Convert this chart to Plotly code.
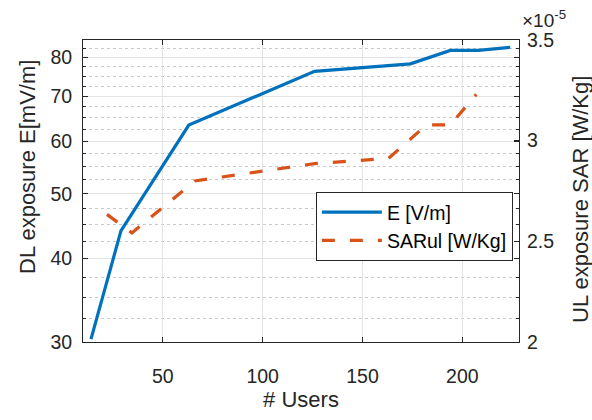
import plotly.graph_objects as go

# Data
users_E = [14, 29, 63, 126, 174, 194, 208, 224]
E_vals = [30.3, 44.0, 63.4, 76.3, 78.3, 82.0, 82.0, 82.9]

users_SAR = [22, 34.5, 66, 126, 163, 182, 194, 207]
SAR_vals = [2.634e-5, 2.542e-5, 2.80e-5, 2.886e-5, 2.912e-5, 3.078e-5, 3.078e-5, 3.23e-5]

x_ticks = [50, 100, 150, 200]
yl_ticks = [30, 40, 50, 60, 70, 80]
yl_minor = [32.5, 35, 37.5, 42.5, 45, 47.5, 52.5, 55, 57.5, 62.5, 65, 67.5, 72.5, 75, 77.5, 82.5]
yr_ticks = [2e-5, 2.5e-5, 3e-5, 3.5e-5]
yr_ticktext = ["2", "2.5", "3", "3.5"]

FONT = "Liberation Sans, Arial, sans-serif"
AX = "#262626"

fig = go.Figure()
fig.add_trace(go.Scatter(x=users_E, y=E_vals, mode="lines", name="E [V/m]",
                         line=dict(color="#0072BD", width=3.2), yaxis="y"))
fig.add_trace(go.Scatter(x=users_SAR, y=SAR_vals, mode="lines", name="SARul [W/Kg]",
                         line=dict(color="#D95319", width=3.2, dash="13px,15px"), yaxis="y2"))

fig.update_layout(
    width=592, height=420,
    margin=dict(l=83, r=73, t=40, b=78, autoexpand=False),
    paper_bgcolor="white", plot_bgcolor="white",
    font=dict(family=FONT, color=AX, size=19.5),
    showlegend=True,
    legend=dict(x=0.986, xanchor="right", y=0.497, yanchor="top",
                bordercolor=AX, borderwidth=1, bgcolor="white",
                font=dict(size=19.5, color="black"), itemwidth=60,
                tracegroupgap=0),
    xaxis=dict(range=[10, 228.4], tickvals=x_ticks, ticks="inside", ticklen=5,
               tickcolor=AX, showline=True, linecolor=AX, linewidth=1, mirror="ticks",
               showgrid=True, gridcolor="#e3e3e3", gridwidth=1, zeroline=False,
               ticklabelstandoff=17, automargin=False,
               title=dict(text="# Users", font=dict(size=22), standoff=3)),
    yaxis=dict(type="log", range=[1.47712, 1.92942], tickvals=yl_ticks, ticks="inside",
               ticklen=5, tickcolor=AX, showline=True, linecolor=AX, linewidth=1,
               mirror="ticks", showgrid=True, gridcolor="#e3e3e3", gridwidth=1,
               zeroline=False, ticklabelstandoff=6, automargin=False,
               minor=dict(tickmode="array", tickvals=yl_minor, ticks="inside", ticklen=3,
                          tickcolor=AX, showgrid=True, gridcolor="#c8c8c8",
                          griddash="dot", gridwidth=1)),
    yaxis2=dict(overlaying="y", side="right", range=[2e-5, 3.5e-5], tickvals=yr_ticks,
                ticktext=yr_ticktext, ticks="inside", ticklen=5, tickcolor=AX,
                showline=True, linecolor=AX, linewidth=1, showgrid=False, zeroline=False,
                ticklabelstandoff=3, automargin=False),
)

# axis titles (placed as in the reference)
fig.add_annotation(text="DL exposure E[mV/m]", xref="paper", yref="paper",
                   x=(27 - 83) / 436, y=(342 - 167) / 302, xanchor="center", yanchor="middle",
                   textangle=-90, showarrow=False, font=dict(size=22, color=AX))
fig.add_annotation(text="UL exposure SAR [W/Kg]", xref="paper", yref="paper",
                   x=1 + (580 - 519) / 436, y=(342 - 200) / 302, xanchor="center",
                   yanchor="middle", textangle=-90, showarrow=False,
                   font=dict(size=22, color=AX))
fig.add_annotation(text="×10<sup>-5</sup>", xref="paper", yref="paper",
                   x=1.003, y=1.0, xanchor="left", yanchor="bottom", yshift=7,
                   showarrow=False, font=dict(size=19, color=AX))

fig.write_html("out.html")
